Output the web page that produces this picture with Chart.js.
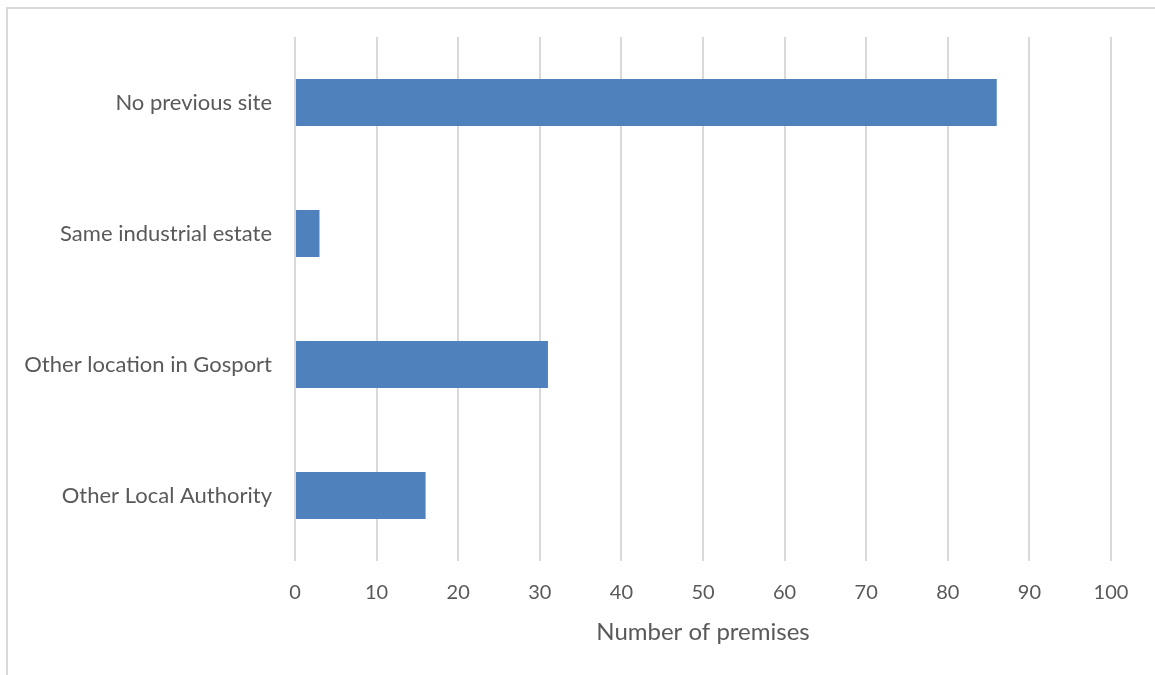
<!DOCTYPE html>
<html>
<head>
<meta charset="utf-8">
<script src="https://cdn.jsdelivr.net/npm/chart.js@4/dist/chart.umd.min.js"></script>
<style>
html,body{margin:0;padding:0;background:#fff;}
#wrap{position:relative;width:1155px;height:675px;}
#frame{position:absolute;left:6px;top:7px;width:1160px;height:680px;border-top:2px solid #d9d9d9;border-left:2px solid #d9d9d9;box-sizing:border-box;}
canvas{position:absolute;left:0;top:0;}
</style>
</head>
<body>
<div id="wrap">
<div id="frame"></div>
<canvas id="c" width="1155" height="675"></canvas>
</div>
<script>
const categories = ["No previous site", "Same industrial estate", "Other location in Gosport", "Other Local Authority"];
const premises = [86, 3, 31, 16];
const xTicks = [0, 10, 20, 30, 40, 50, 60, 70, 80, 90, 100];
const xTitle = "Number of premises";

const FONT = "Lato, 'Open Sans', sans-serif";
new Chart(document.getElementById('c'), {
  type: 'bar',
  data: {
    labels: categories,
    datasets: [{
      data: premises,
      backgroundColor: '#4f81bd',
      borderWidth: 0,
      categoryPercentage: 1,
      barPercentage: 0.36
    }]
  },
  options: {
    indexAxis: 'y',
    responsive: false,
    animation: false,
    layout: { padding: { top: 37, right: 44, left: 0, bottom: 0 } },
    plugins: { legend: { display: false }, tooltip: { enabled: false } },
    scales: {
      x: {
        min: xTicks[0], max: xTicks[xTicks.length - 1],
        afterBuildTicks: (s) => { s.ticks = xTicks.map(v => ({ value: v })); },
        grid: { color: '#d9d9d9', lineWidth: 2, drawTicks: false },
        border: { display: false },
        ticks: { color: '#595959', font: { family: FONT, size: 20 }, padding: 20 },
        title: { display: true, text: xTitle, color: '#595959', font: { family: FONT, size: 24 }, padding: { top: 8, bottom: 28 } },
        afterFit: (s) => { s.height = 114; }
      },
      y: {
        grid: { display: false, drawTicks: false },
        border: { display: false },
        ticks: { color: '#595959', font: { family: FONT, size: 22 }, padding: 23 },
        afterFit: (s) => { s.width = 295; }
      }
    }
  }
});
</script>
</body>
</html>
